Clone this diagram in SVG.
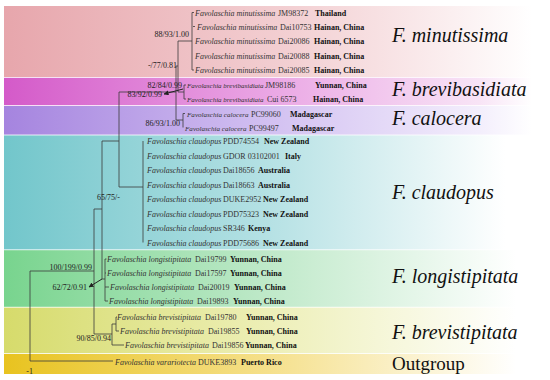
<svg xmlns="http://www.w3.org/2000/svg" width="550" height="380" viewBox="0 0 550 380">
<defs>
<linearGradient id="gMin" x1="0" y1="0" x2="1" y2="0"><stop offset="0" stop-color="#e7a6ac"/><stop offset="0.55" stop-color="#f3d0d3"/><stop offset="1" stop-color="#ffffff"/></linearGradient>
<linearGradient id="gBrb" x1="0" y1="0" x2="1" y2="0"><stop offset="0" stop-color="#d45ac9"/><stop offset="0.5" stop-color="#eaa6e4"/><stop offset="0.9" stop-color="#f8e4f6"/><stop offset="1" stop-color="#ffffff"/></linearGradient>
<linearGradient id="gCal" x1="0" y1="0" x2="1" y2="0"><stop offset="0" stop-color="#a584df"/><stop offset="0.5" stop-color="#d2c0f1"/><stop offset="0.9" stop-color="#f3eefc"/><stop offset="1" stop-color="#ffffff"/></linearGradient>
<linearGradient id="gCla" x1="0" y1="0" x2="1" y2="0"><stop offset="0" stop-color="#72c6cb"/><stop offset="0.5" stop-color="#b5e1e4"/><stop offset="0.95" stop-color="#ffffff"/></linearGradient>
<linearGradient id="gLon" x1="0" y1="0" x2="1" y2="0"><stop offset="0" stop-color="#78d48e"/><stop offset="0.5" stop-color="#bfe9c9"/><stop offset="0.97" stop-color="#ffffff"/></linearGradient>
<linearGradient id="gBrs" x1="0" y1="0" x2="1" y2="0"><stop offset="0" stop-color="#d6db6b"/><stop offset="0.5" stop-color="#edefb7"/><stop offset="0.97" stop-color="#ffffff"/></linearGradient>
<linearGradient id="gOut" x1="0" y1="0" x2="1" y2="0"><stop offset="0" stop-color="#e8c31f"/><stop offset="0.5" stop-color="#f5e08b"/><stop offset="0.97" stop-color="#ffffff"/></linearGradient>
<marker id="arr" viewBox="0 0 10 10" refX="9" refY="5" markerWidth="5" markerHeight="5" orient="auto"><path d="M0,0 L10,5 L0,10 z" fill="#222"/></marker>
</defs>
<style>
.sp{font-family:"Liberation Serif","Times New Roman",serif;font-size:8px;fill:#333;font-style:italic}
.sm{font-size:7px}
.c{font-family:"Liberation Serif","Times New Roman",serif;font-size:8px;font-style:normal;fill:#333}
.k{font-family:"Liberation Serif","Times New Roman",serif;font-size:8px;font-style:normal;font-weight:bold;fill:#111}
.cl{font-family:"Liberation Serif","Times New Roman",serif;font-size:20px;font-style:italic;fill:#111}
.og{font-family:"Liberation Serif","Times New Roman",serif;font-size:19px;fill:#111}
.sup{font-family:"Liberation Serif","Times New Roman",serif;font-size:8px;fill:#222;text-anchor:end}
.ln{stroke:#3a3a3a;stroke-width:0.8;fill:none}
</style>
<rect width="550" height="380" fill="#ffffff"/>

<g id="minutissima">
<rect x="4" y="6" width="528" height="71" fill="url(#gMin)"/>
<text class="cl" x="392" y="41.5">F. minutissima</text>
<text class="sp" x="195" y="15.5">Favolaschia minutissima <tspan class="c" x="278">JM98372</tspan><tspan class="k" x="315">Thailand</tspan></text>
<text class="sp" x="197" y="29.5">Favolaschia minutissima <tspan class="c" x="280">Dai10753</tspan><tspan class="k" x="314">Hainan, China</tspan></text>
<text class="sp" x="195" y="44">Favolaschia minutissima <tspan class="c" x="278">Dai20086</tspan><tspan class="k" x="314">Hainan, China</tspan></text>
<text class="sp" x="195" y="58.5">Favolaschia minutissima <tspan class="c" x="278">Dai20088</tspan><tspan class="k" x="314">Hainan, China</tspan></text>
<text class="sp" x="195" y="73">Favolaschia minutissima <tspan class="c" x="278">Dai20085</tspan><tspan class="k" x="314">Hainan, China</tspan></text>
</g>

<g id="brevibasidiata">
<rect x="4" y="77.8" width="528" height="27.4" fill="url(#gBrb)"/>
<text class="cl" x="392" y="96">F. brevibasidiata</text>
<text class="sp sm" x="187" y="88">Favolaschia brevibasidiata</text>
<text class="c" x="265" y="88">JM98186</text>
<text class="k" x="315" y="88">Yunnan, China</text>
<text class="sp sm" x="187" y="102">Favolaschia brevibasidiata</text>
<text class="c" x="267" y="102">Cui 6573</text>
<text class="k" x="313" y="102">Hainan, China</text>
</g>

<g id="calocera">
<rect x="4" y="106" width="528" height="28.6" fill="url(#gCal)"/>
<text class="cl" x="392" y="125">F. calocera</text>
<text class="sp" x="187" y="116.5" style="font-size:7.1px">Favolaschia calocera</text>
<text class="c" x="251" y="116.5">PC99060</text>
<text class="k" x="290" y="116.5">Madagascar</text>
<text class="sp" x="185" y="130.5" style="font-size:7.1px">Favolaschia calocera</text>
<text class="c" x="249" y="130.5">PC99497</text>
<text class="k" x="292" y="130.5">Madagascar</text>
</g>

<g id="claudopus">
<rect x="4" y="135.4" width="528" height="114" fill="url(#gCla)"/>
<text class="cl" x="392" y="199">F. claudopus</text>
<text class="sp" x="147" y="144">Favolaschia claudopus <tspan class="c" x="223">PDD74554</tspan><tspan class="k" x="264">New Zealand</tspan></text>
<text class="sp" x="147" y="158.5">Favolaschia claudopus <tspan class="c" x="223">GDOR 03102001</tspan><tspan class="k" x="285">Italy</tspan></text>
<text class="sp" x="147" y="173">Favolaschia claudopus <tspan class="c" x="223">Dai18656</tspan><tspan class="k" x="258">Australia</tspan></text>
<text class="sp" x="147" y="187.5">Favolaschia claudopus <tspan class="c" x="223">Dai18663</tspan><tspan class="k" x="258">Australia</tspan></text>
<text class="sp" x="147" y="202">Favolaschia claudopus <tspan class="c" x="223">DUKE2952</tspan><tspan class="k" x="263">New Zealand</tspan></text>
<text class="sp" x="147" y="216.5">Favolaschia claudopus <tspan class="c" x="223">PDD75323</tspan><tspan class="k" x="263">New Zealand</tspan></text>
<text class="sp" x="147" y="231">Favolaschia claudopus <tspan class="c" x="223">SR346</tspan><tspan class="k" x="248">Kenya</tspan></text>
<text class="sp" x="147" y="245.5">Favolaschia claudopus <tspan class="c" x="223">PDD75686</tspan><tspan class="k" x="263">New Zealand</tspan></text>
</g>

<g id="longistipitata">
<rect x="4" y="250.2" width="528" height="56.6" fill="url(#gLon)"/>
<text class="cl" x="392" y="283">F. longistipitata</text>
<text class="sp" x="107" y="262">Favolaschia longistipitata <tspan class="c" x="195">Dai19799</tspan><tspan class="k" x="230">Yunnan, China</tspan></text>
<text class="sp" x="107" y="276">Favolaschia longistipitata <tspan class="c" x="195">Dai17597</tspan><tspan class="k" x="230">Yunnan, China</tspan></text>
<text class="sp" x="110" y="290">Favolaschia longistipitata <tspan class="c" x="198">Dai20019</tspan><tspan class="k" x="234">Yunnan, China</tspan></text>
<text class="sp" x="109" y="304">Favolaschia longistipitata <tspan class="c" x="197">Dai19893</tspan><tspan class="k" x="233">Yunnan, China</tspan></text>
</g>

<g id="brevistipitata">
<rect x="4" y="307.6" width="528" height="45.6" fill="url(#gBrs)"/>
<text class="cl" x="392" y="339">F. brevistipitata</text>
<text class="sp" x="117" y="320">Favolaschia brevistipitata <tspan class="c" x="205">Dai19780</tspan><tspan class="k" x="246">Yunnan, China</tspan></text>
<text class="sp" x="120" y="334">Favolaschia brevistipitata <tspan class="c" x="208">Dai19855</tspan><tspan class="k" x="246">Yunnan, China</tspan></text>
<text class="sp" x="125" y="348">Favolaschia brevistipitata <tspan class="c" x="212">Dai19856</tspan><tspan class="k" x="245">Yunnan, China</tspan></text>
</g>

<g id="outgroup">
<rect x="4" y="354" width="528" height="20" fill="url(#gOut)"/>
<text class="og" x="392" y="370">Outgroup</text>
<text class="sp" x="115" y="365">Favolaschia varariotecta <tspan class="c" x="198">DUKE3893</tspan><tspan class="k" x="241">Puerto Rico</tspan></text>
</g>

<g id="connectors">
<path class="ln" d="M192,12.5 V70 M192,12.5 h2 M193,26.5 h2 M192,70 h2 M178,41 H192"/>
<path class="ln" d="M184,85 V99 M184,85 h2 M184,99 h2 M178,92 H184"/>
<path class="ln" d="M178,41 V92 M176,66 H178"/>
<path class="ln" d="M183,113.5 V127.5 M183,113.5 h2 M176,120 H183"/>
<path class="ln" d="M176,66 V120 M119,92 H176"/>
<path class="ln" d="M143,141 V242.5 M119,187 H143"/>
<path class="ln" d="M119,92 V187 M102,141 H119"/>
<path class="ln" d="M105,259 V301 M105,259 h1.5 M105,273 h1 M105,287 h4 M105,301 h3 M102,279 H105"/>
<path class="ln" d="M102,141 V279 M94,209 H102"/>
<path class="ln" d="M116,317 V331 M116,317 h1 M116,331 h3 M112,324 H116 M112,324 V345 H124 M94,334 H112"/>
<path class="ln" d="M94,209 V334 M30,271 H94"/>
<path class="ln" d="M30,271 V361 H113"/>
<path d="M183,89 L164,94" stroke="#222" stroke-width="1" fill="none" marker-end="url(#arr)"/>
<path d="M102,279 L89,287" stroke="#222" stroke-width="1" fill="none" marker-end="url(#arr)"/>
</g>

<g id="supports">
<text class="sup" x="189" y="37">88/93/1.00</text>
<text class="sup" x="177" y="67.5">-/77/0.81</text>
<text class="sup" x="182" y="88">82/84/0.99</text>
<text class="sup" x="162" y="97">83/92/0.99</text>
<text class="sup" x="180" y="126">86/93/1.00</text>
<text class="sup" x="120" y="200">65/75/-</text>
<text class="sup" x="92" y="270">100/199/0.99</text>
<text class="sup" x="87" y="290">62/72/0.91</text>
<text class="sup" x="111" y="341">90/85/0.94</text>
<text class="sup" x="33" y="374">-1</text>
</g>
</svg>
